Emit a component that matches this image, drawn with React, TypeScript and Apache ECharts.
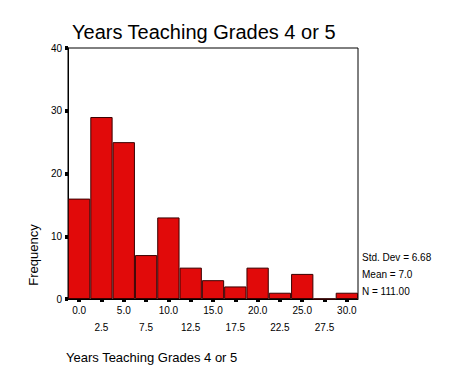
import React, { useEffect, useRef } from "react";
import * as echarts from "echarts";

const binLabels = ["0.0", "2.5", "5.0", "7.5", "10.0", "12.5", "15.0", "17.5", "20.0", "22.5", "25.0", "27.5", "30.0"];
const frequencies = [16, 29, 25, 7, 13, 5, 3, 2, 5, 1, 4, 0, 1];
const statsLines = ["Std. Dev = 6.68", "Mean = 7.0", "N = 111.00"];
const titleText = "Years Teaching Grades 4 or 5";
const xTitle = "Years Teaching Grades 4 or 5";
const yTitle = "Frequency";

export default function App() {
  const ref = useRef<HTMLDivElement>(null);
  useEffect(() => {
    if (!ref.current) return;
    const chart = echarts.init(ref.current, null, { renderer: "svg" });
    const font = "Arial, 'Liberation Sans', sans-serif";
    chart.setOption({
      animation: false,
      backgroundColor: "#ffffff",
      title: {
        text: titleText,
        left: 67,
        top: 17,
        textStyle: { fontFamily: font, fontSize: 20, fontWeight: "normal", color: "#000" },
      },
      grid: {
        left: 68,
        right: 115,
        top: 48,
        bottom: 80,
        show: true,
        borderColor: "#000",
        borderWidth: 1,
        backgroundColor: "transparent",
      },
      xAxis: {
        type: "category",
        data: binLabels,
        boundaryGap: true,
        axisLine: { show: true, lineStyle: { color: "#000", width: 1 } },
        axisTick: { show: true, alignWithLabel: true, length: 3, lineStyle: { color: "#000", width: 4 } },
        axisLabel: {
          interval: 0,
          color: "#000",
          fontFamily: font,
          fontSize: 10,
          margin: 3,
          lineHeight: 17,
          formatter: (v: string, i: number) => (i % 2 === 0 ? v : "\n" + v),
        },
        splitLine: { show: false },
      },
      yAxis: {
        type: "value",
        min: 0,
        max: 40,
        interval: 10,
        axisLine: { show: true, lineStyle: { color: "#000", width: 1 } },
        axisTick: { show: true, length: 3, lineStyle: { color: "#000", width: 4 } },
        axisLabel: { color: "#000", fontFamily: font, fontSize: 10, margin: 6 },
        splitLine: { show: false },
      },
      series: [
        {
          type: "bar",
          data: frequencies,
          barCategoryGap: "0%",
          itemStyle: { color: "#e10a0a", borderColor: "#3a0000", borderWidth: 1 },
        },
      ],
      graphic: [
        {
          type: "text",
          x: 33,
          y: 255,
          rotation: Math.PI / 2,
          style: {
            text: yTitle,
            font: `13px ${font}`,
            fill: "#000",
            textAlign: "center",
            textVerticalAlign: "middle",
          },
        },
        {
          type: "text",
          x: 66,
          y: 357,
          style: {
            text: xTitle,
            font: `13px ${font}`,
            fill: "#000",
            textAlign: "left",
            textVerticalAlign: "middle",
          },
        },
        ...statsLines.map((s, i) => ({
          type: "text",
          x: 362,
          y: 257 + i * 17,
          style: {
            text: s,
            font: `10px ${font}`,
            fill: "#000",
            textAlign: "left",
            textVerticalAlign: "middle",
          },
        })),
      ],
    });
    return () => chart.dispose();
  }, []);
  return <div ref={ref} style={{ position: "absolute", left: 0, top: 0, width: 473, height: 379 }} />;
}
